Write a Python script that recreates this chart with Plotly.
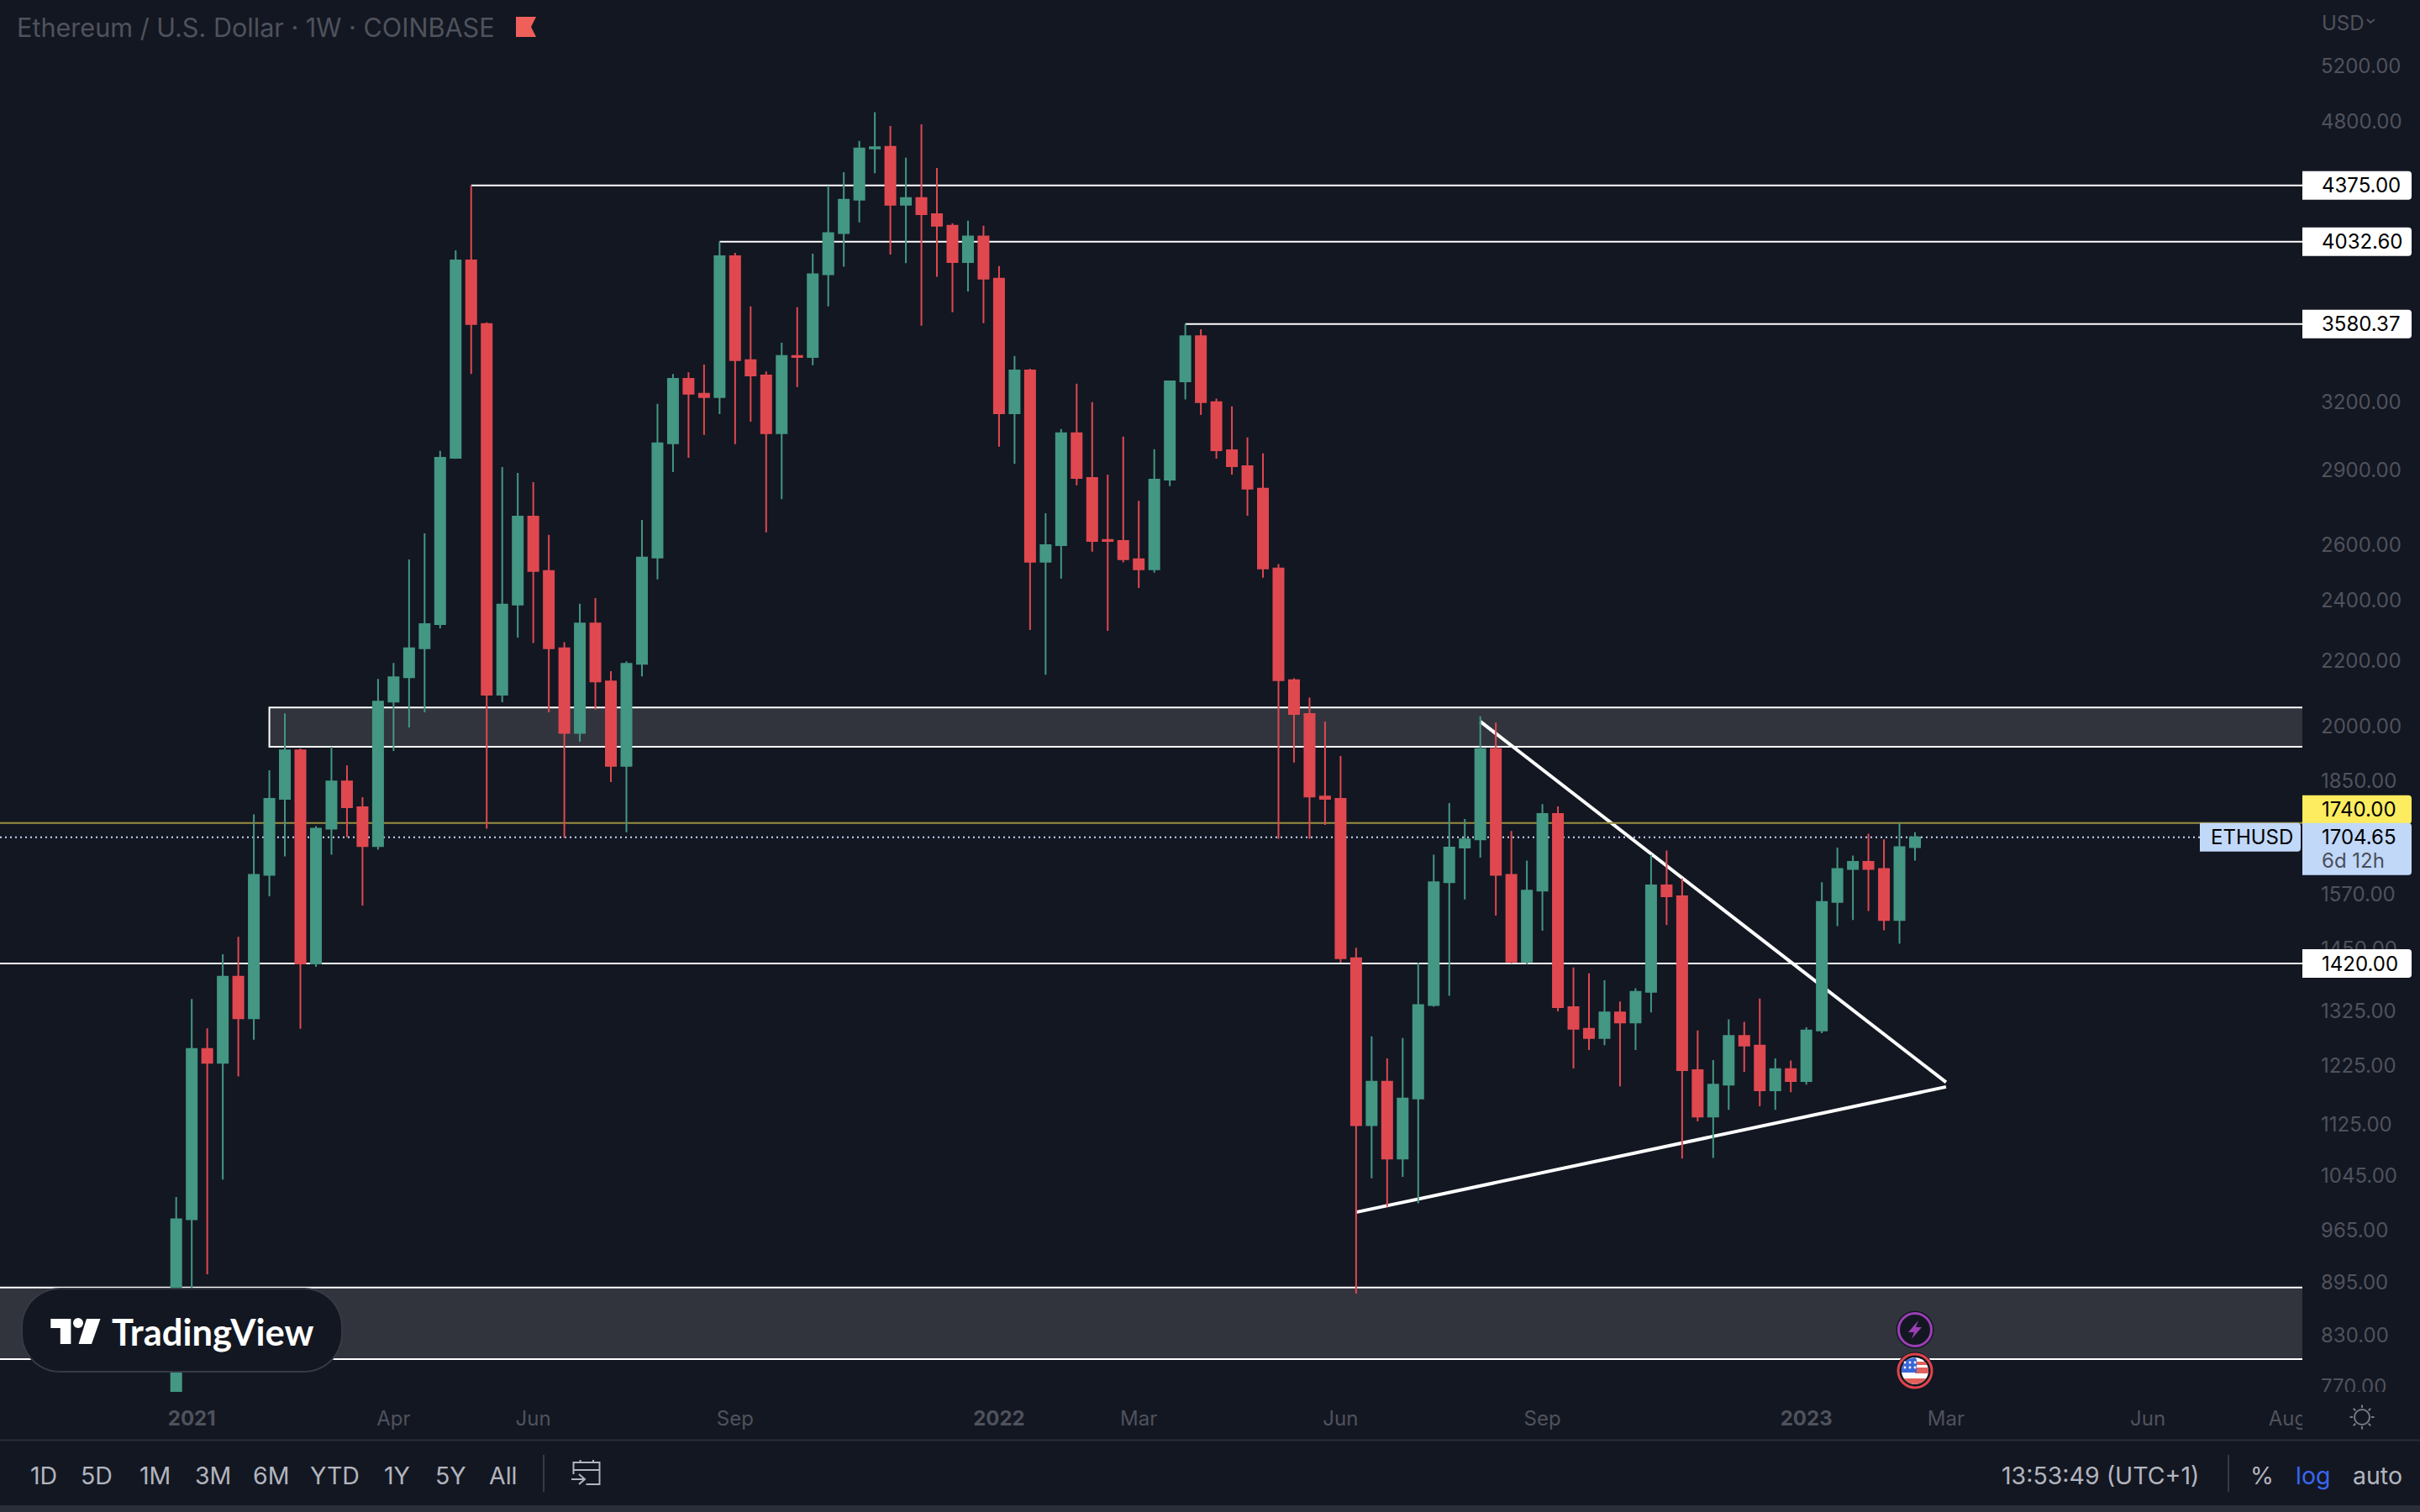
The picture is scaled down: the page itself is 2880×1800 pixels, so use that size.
"""ETHUSD weekly candles, TradingView dark style, with drawn levels and a triangle."""

import numpy as np
import pandas as pd
import plotly.graph_objects as go

# Weekly bars, first one opens the week of 2020-12-28
first_week = "2020-12-28"

opens = [737, 981, 1255, 1230, 1393, 1312, 1614, 1802, 1933, 1420, 1726, 1848, 1780, 1683, 2074, 2148,
         2240, 2320, 2950, 3925, 3580, 2095, 2386, 2710, 2505, 2240, 1982, 2322, 2135, 1890, 2190, 2554,
         3013, 3307, 3237, 3221, 3949, 3398, 3323, 3057, 3419, 3413, 3847, 4083, 4285, 4615, 4626, 4254,
         4296, 4197, 4127, 3916, 4063, 3823, 3147, 3348, 2539, 2600, 3057, 2866, 2620, 2616, 2548, 2511,
         2859, 3295, 3518, 3198, 2983, 2915, 2822, 2514, 2139, 2037, 1808, 1802, 1431, 1124, 1197, 1071,
         1168, 1337, 1597, 1679, 1699, 1936, 1614, 1424, 1578, 1763, 1333, 1292, 1275, 1323, 1304, 1363,
         1590, 1565, 1217, 1138, 1192, 1279, 1261, 1182, 1219, 1198, 1289, 1552, 1628, 1645, 1628, 1512,
         1680]
highs = [1013, 1349, 1293, 1439, 1476, 1762, 1878, 2039, 1938, 1732, 1943, 1891, 1806, 2143, 2193, 2547,
         2645, 2980, 3983, 4375, 3589, 2911, 2887, 2848, 2639, 2260, 2389, 2409, 2167, 2198, 2697, 3190,
         3331, 3339, 3376, 4032, 3968, 3673, 3343, 3485, 3668, 3963, 4372, 4459, 4666, 4863, 4767, 4553,
         4779, 4486, 4142, 4157, 4127, 3893, 3419, 3356, 2723, 3076, 3284, 3198, 2880, 3042, 2772, 2987,
         3299, 3580, 3553, 3214, 3178, 3039, 2969, 2530, 2145, 2086, 2015, 1917, 1453, 1278, 1238, 1275,
         1422, 1662, 1791, 1750, 2030, 2012, 1720, 1648, 1788, 1782, 1412, 1400, 1386, 1344, 1370, 1662,
         1672, 1606, 1289, 1235, 1310, 1305, 1350, 1238, 1234, 1295, 1597, 1679, 1660, 1713, 1699, 1740,
         1717]
lows = [716, 881, 906, 1039, 1206, 1272, 1565, 1658, 1292, 1413, 1662, 1705, 1544, 1674, 1931, 1998,
        2042, 2306, 2946, 3331, 1726, 2072, 2275, 2257, 2042, 1703, 1957, 2050, 1846, 1717, 2151, 2475,
        2890, 2950, 3050, 3143, 3009, 3109, 2649, 2779, 3268, 3373, 3673, 3889, 4147, 4453, 3959, 3910,
        3571, 3833, 3642, 3753, 3584, 2998, 2925, 2300, 2156, 2478, 2835, 2576, 2297, 2536, 2444, 2499,
        2832, 3210, 3139, 2947, 2880, 2713, 2481, 1701, 1899, 1701, 1735, 1422, 881, 1041, 999, 1043,
        1004, 1334, 1355, 1558, 1655, 1522, 1420, 1418, 1489, 1325, 1220, 1253, 1262, 1189, 1253, 1323,
        1501, 1071, 1130, 1072, 1149, 1214, 1155, 1149, 1179, 1192, 1284, 1499, 1512, 1532, 1490, 1461,
        1648]
closes = [981, 1255, 1230, 1393, 1312, 1614, 1802, 1933, 1420, 1726, 1848, 1780, 1683, 2074, 2148, 2240,
          2320, 2950, 3925, 3580, 2095, 2386, 2710, 2505, 2240, 1982, 2322, 2135, 1890, 2190, 2554, 3013,
          3307, 3237, 3221, 3949, 3398, 3323, 3057, 3419, 3413, 3847, 4083, 4285, 4615, 4623, 4254, 4296,
          4197, 4127, 3916, 4063, 3823, 3147, 3348, 2539, 2600, 3057, 2866, 2616, 2616, 2548, 2511, 2859,
          3295, 3518, 3198, 2983, 2915, 2822, 2514, 2139, 2037, 1808, 1802, 1431, 1124, 1197, 1071, 1168,
          1337, 1597, 1679, 1699, 1936, 1614, 1424, 1578, 1763, 1333, 1292, 1275, 1323, 1304, 1363, 1590,
          1565, 1217, 1138, 1192, 1279, 1261, 1182, 1219, 1198, 1289, 1552, 1628, 1645, 1628, 1512, 1680,
          1704.65]

# Drawn levels: (start date, price); None starts at the left edge
levels = [("2021-05-10", 4375.00), ("2021-08-30", 4032.60), ("2022-03-28", 3580.37), (None, 1420.00)]
upper_zone = ("2021-02-08", 1943, 2056)
lower_zone = (None, 801.5, 888.7)
falling_line = [("2022-08-08", 2015), ("2023-03-06", 1196)]
rising_line = [("2022-06-13", 991), ("2023-03-06", 1188)]
alert_price = 1740.00
last_price = 1704.65

y_ticks = [5200, 4800, 3200, 2900, 2600, 2400, 2200, 2000, 1850, 1570, 1450, 1325, 1225, 1125, 1045, 965, 895, 830, 770]
x_tick_dates = ["2021-01-04", "2021-04-05", "2021-06-07", "2021-09-06", "2022-01-03", "2022-03-07",
                "2022-06-06", "2022-09-05", "2023-01-02", "2023-03-06", "2023-06-05", "2023-08-07"]
x_tick_text = ["<b>2021</b>", "Apr", "Jun", "Sep", "<b>2022</b>", "Mar", "Jun", "Sep", "<b>2023</b>", "Mar", "Jun", "Aug"]
range_buttons = [("1D", 52), ("5D", 115), ("1M", 184), ("3M", 253), ("6M", 322), ("YTD", 398), ("1Y", 472), ("5Y", 536), ("All", 598)]

BG = "#131722"
GREEN = "#439783"
RED = "#e04850"
ZONE = "#31343d"
MUTED = "#4f525c"
BAR_TEXT = "#b2b5be"
FONT = "Inter"
W, H = 2880, 1800
PANE_W, PANE_H = 2740, 1657


def px(x):
    return x / PANE_W


def py(y):
    return 1 - y / PANE_H


def poly(points, close=True):
    d = "M " + " L ".join(f"{px(x):.5f},{py(y):.5f}" for x, y in points)
    return d + (" Z" if close else "")


def circle_shape(cx, cy, r, **kw):
    return dict(type="circle", xref="paper", yref="paper", x0=px(cx - r), x1=px(cx + r), y0=py(cy + r), y1=py(cy - r), **kw)


def path_shape(points, close=True, fill=None, line_color=None, line_width=0):
    return dict(type="path", xref="paper", yref="paper", path=poly(points, close), fillcolor=fill,
                line=dict(color=line_color, width=line_width), layer="above")


def rect_shape(x0, y0, x1, y1, fill):
    return dict(type="rect", xref="paper", yref="paper", x0=px(x0), x1=px(x1), y0=py(y1), y1=py(y0),
                fillcolor=fill, line=dict(width=0), layer="above")


def price_tag(price, fill, top=17, bottom=-17, x0=0, x1=130):
    # sized in pixels, anchored on the price and on the right edge of the pane
    path = (f"M{x0},{bottom} L{x1 - 4},{bottom} Q{x1},{bottom} {x1},{bottom + 4} L{x1},{top - 4} "
            f"Q{x1},{top} {x1 - 4},{top} L{x0},{top} Z")
    return dict(type="path", xref="paper", yref="y", xsizemode="pixel", ysizemode="pixel", xanchor=1, yanchor=price,
                path=path, fillcolor=fill, line=dict(width=0), layer="above")


def tag_text(price, text, color="#000000", yshift=0, xshift=21, size=24):
    return dict(xref="paper", yref="y", x=1, y=np.log10(price), text=text, showarrow=False, xanchor="left",
                yanchor="middle", xshift=xshift, yshift=yshift, font=dict(family=FONT, size=size, color=color))


def chrome_text(x, y, text, color=BAR_TEXT, size=28.5, anchor="center", family=FONT):
    return dict(xref="paper", yref="paper", x=px(x), y=py(y), text=text, showarrow=False, xanchor=anchor,
                yanchor="middle", font=dict(family=family, size=size, color=color))


def band(cx, cy, r, y0, y1, xmin=None):
    ys = np.linspace(y0, y1, 8)
    half = np.sqrt(np.maximum(r**2 - (ys - cy) ** 2, 0))
    left = cx - half if xmin is None else np.maximum(cx - half, xmin)
    return list(zip(cx + half, ys)) + list(zip(left[::-1], ys[::-1]))


dates = pd.date_range(first_week, periods=len(closes), freq="7D")
week_px = 18.476
x_start = dates[0] + pd.Timedelta(days=-(209.7 / week_px) * 7)
x_end = dates[0] + pd.Timedelta(days=(PANE_W - 209.7) / week_px * 7)
# drawings run past the pane so their end caps stay out of view
x_far_left = x_start - pd.Timedelta(days=30)
x_far_right = x_end + pd.Timedelta(days=30)

shapes = []

# Drawings sit under the candles
for start, low, high in (upper_zone, lower_zone):
    shapes.append(dict(type="rect", xref="x", yref="y", x0=start or x_far_left, x1=x_far_right, y0=low, y1=high,
                       fillcolor=ZONE, line=dict(color="#ffffff", width=2), layer="below"))
for start, price in levels:
    shapes.append(dict(type="line", xref="x", yref="y", x0=start or x_start, x1=x_end, y0=price, y1=price,
                       line=dict(color="#ffffff", width=2), layer="below"))
for seg in (falling_line, rising_line):
    shapes.append(dict(type="line", xref="x", yref="y", x0=seg[0][0], y0=seg[0][1], x1=seg[1][0], y1=seg[1][1],
                       line=dict(color="#ffffff", width=4), layer="below"))
shapes.append(dict(type="line", xref="x", yref="y", x0=x_start, x1=x_end, y0=alert_price, y1=alert_price,
                   line=dict(color="#9a8f3f", width=2), layer="below"))
shapes.append(dict(type="line", xref="paper", yref="y", x0=0, x1=px(2618), y0=last_price, y1=last_price,
                   line=dict(color="#c3d9f8", width=2, dash="2px,4px"), layer="below"))

# Mask under the price scale so the lowest label is cut at the pane edge, as on the original
shapes.append(rect_shape(2740, 1657, 2880, 1715, BG))
shapes.append(rect_shape(0, 1713.5, 2880, 1715.5, "#2a2d38"))
shapes.append(rect_shape(0, 1792, 2880, 1800, "#2a2e39"))
shapes.append(rect_shape(646, 1732, 648, 1776, "#363a45"))
shapes.append(rect_shape(2651, 1732, 2653, 1776, "#363a45"))

# Price tags
for _, price in levels:
    shapes.append(price_tag(price, "#ffffff"))
shapes.append(price_tag(alert_price, "#fdec5f", top=33, bottom=-1))
shapes.append(price_tag(last_price, "#c1d8f9", top=17, bottom=-45))
shapes.append(price_tag(last_price, "#c1d8f9", x0=-122, x1=-2))

# Header flag
shapes.append(path_shape([(614, 20), (638, 20), (632, 32), (638, 44), (614, 44)], fill="#f0605a"))
# USD chevron
shapes.append(path_shape([(2817, 23), (2821, 27), (2826, 23)], close=False, line_color=MUTED, line_width=2))

# TradingView badge
x0, x1, y0, y1 = 26, 407, 1534, 1633
rad = 45
corner = np.linspace(0, np.pi / 2, 12)
pill = ([(x1 - rad + rad * np.sin(a), y0 + rad - rad * np.cos(a)) for a in corner]
        + [(x1 - rad + rad * np.cos(a), y1 - rad + rad * np.sin(a)) for a in corner]
        + [(x0 + rad - rad * np.sin(a), y1 - rad + rad * np.cos(a)) for a in corner]
        + [(x0 + rad - rad * np.cos(a), y0 + rad - rad * np.sin(a)) for a in corner])
shapes.append(path_shape(pill, fill=BG, line_color="#363a45", line_width=2))
shapes.append(path_shape([(60.3, 1570), (84.4, 1570), (84.4, 1600), (71.8, 1600), (71.8, 1581), (60.3, 1581)], fill="#ffffff"))
shapes.append(circle_shape(93, 1575, 6, fillcolor="#ffffff", line=dict(width=0), layer="above"))
shapes.append(path_shape([(103, 1570), (119.5, 1570), (109, 1600), (93.5, 1600)], fill="#ffffff"))

# Event badges above the last bar
ev_x = 2279
shapes.append(circle_shape(ev_x, 1583, 22, fillcolor=BG, line=dict(color=BG, width=1), layer="above"))
shapes.append(circle_shape(ev_x, 1583, 19.5, fillcolor=BG, line=dict(color="#9c3fb5", width=3), layer="above"))
shapes.append(path_shape([(2283, 1572), (2271, 1586), (2278, 1586), (2275, 1594), (2287, 1580), (2280, 1580)], fill="#9c3fb5"))
shapes.append(circle_shape(ev_x, 1632, 22, fillcolor=BG, line=dict(color=BG, width=1), layer="above"))
shapes.append(circle_shape(ev_x, 1632, 20, fillcolor=BG, line=dict(color="#e0434c", width=3), layer="above"))
shapes.append(circle_shape(ev_x, 1632, 16, fillcolor="#ffffff", line=dict(width=0), layer="above"))
shapes.append(path_shape(band(ev_x, 1632, 16, 1641, 1648), fill="#e0605a"))
for top, bottom in ((1621, 1625), (1628, 1635)):
    shapes.append(path_shape(band(ev_x, 1632, 16, top, bottom, xmin=ev_x), fill="#e0605a"))
shapes.append(path_shape([(min(x, ev_x + 2), y) for x, y in band(ev_x, 1632, 16, 1616, 1634)], fill="#3a66d8"))
for sx in (2267, 2273, 2279):
    for sy in (1622, 1628):
        shapes.append(circle_shape(sx, sy, 1.4, fillcolor="#ffffff", line=dict(width=0), layer="above"))

# Calendar icon in the toolbar
for pts in ([(682.5, 1755), (682.5, 1741), (713.5, 1741), (713.5, 1767), (697.5, 1767)],
            [(682.5, 1750), (713.5, 1750)], [(690.6, 1738), (690.6, 1741)], [(706, 1738), (706, 1741)],
            [(680, 1761), (696, 1761)], [(689, 1755), (696, 1761), (689, 1767)]):
    shapes.append(path_shape(pts, close=False, line_color=BAR_TEXT, line_width=2))

# Sun icon
sun_x, sun_y = 2811, 1687
shapes.append(circle_shape(sun_x, sun_y, 9, fillcolor=BG, line=dict(color="#787b86", width=2), layer="above"))
for a in np.arange(8) * np.pi / 4:
    shapes.append(path_shape([(sun_x + 11 * np.cos(a), sun_y + 11 * np.sin(a)), (sun_x + 14.5 * np.cos(a), sun_y + 14.5 * np.sin(a))],
                             close=False, line_color="#787b86", line_width=2))

annotations = [
    chrome_text(18, 33, "Ethereum / U.S. Dollar · 1W · COINBASE", color=MUTED, size=30.6, anchor="left"),
    chrome_text(2761, 27, "USD", color=MUTED, size=24, anchor="left"),
    chrome_text(131, 1585, "<b>TradingView</b>", color="#ffffff", size=43.5, anchor="left", family="Lato"),
    chrome_text(2499, 1756, "13:53:49 (UTC+1)"),
    chrome_text(2692, 1756, "%"),
    chrome_text(2752, 1756, "log", color="#3a66f0"),
    chrome_text(2829, 1756, "auto"),
]
annotations += [chrome_text(x, 1756, label) for label, x in range_buttons]
for _, price in levels:
    annotations.append(tag_text(price, f"{price:.2f}"))
annotations.append(tag_text(alert_price, f"{alert_price:.2f}", yshift=16))
annotations.append(tag_text(last_price, f"{last_price:.2f}"))
annotations.append(tag_text(last_price, "6d 12h", color="#4a4f5c", yshift=-28))
annotations.append(tag_text(last_price, "ETHUSD", xshift=-111))

fig = go.Figure()
fig.add_candlestick(
    x=dates, open=opens, high=highs, low=lows, close=closes,
    increasing=dict(line=dict(color=GREEN, width=2), fillcolor=GREEN),
    decreasing=dict(line=dict(color=RED, width=2), fillcolor=RED),
    whiskerwidth=0,
)

fig.update_layout(
    width=W, height=H,
    margin=dict(l=0, r=W - PANE_W, t=0, b=H - PANE_H, autoexpand=False),
    paper_bgcolor=BG, plot_bgcolor=BG,
    showlegend=False, boxgap=0.35, boxgroupgap=0,
    font=dict(family=FONT, size=24, color=MUTED),
    shapes=shapes, annotations=annotations,
    xaxis=dict(
        type="date", range=[x_start, x_end], rangeslider=dict(visible=False),
        showgrid=False, zeroline=False, showline=False,
        tickmode="array", tickvals=x_tick_dates, ticktext=x_tick_text, ticks="", ticklabelstandoff=15,
        tickfont=dict(family=FONT, size=24, color=MUTED),
    ),
    yaxis=dict(
        type="log", side="right", range=[np.log10(764.3), np.log10(5720)],
        showgrid=False, zeroline=False, showline=False,
        tickmode="array", tickvals=y_ticks, ticktext=[f"{v:.2f}" for v in y_ticks], ticks="", ticklabelstandoff=21,
        tickfont=dict(family=FONT, size=24, color=MUTED),
    ),
)

fig.write_html("out.html", config=dict(displayModeBar=False),
               post_script="document.body.style.margin='0';document.body.style.background='#131722';")
